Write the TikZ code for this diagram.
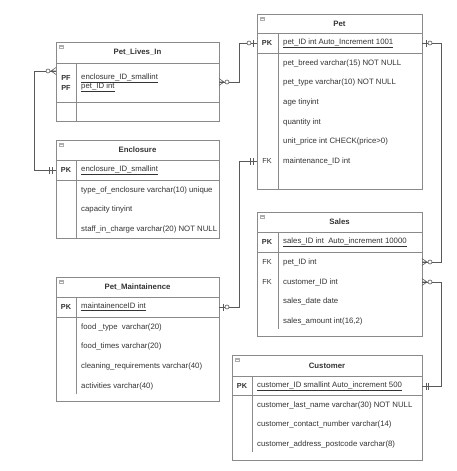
\documentclass[tikz,border=0pt]{standalone}
\usepackage{fontspec}
\setmainfont{Liberation Sans}
\definecolor{lineg}{HTML}{8A8A8A}
\definecolor{txtg}{HTML}{333333}
\tikzset{
  tbl/.style={draw=lineg,line width=0.8pt},
  rel/.style={draw=black!65,line width=0.6pt},
  title/.style={font=\fontsize{7.8}{9}\selectfont\bfseries,text=txtg},
  keylbl/.style={font=\fontsize{7.3}{9}\selectfont\bfseries,text=txtg},
  fklbl/.style={font=\fontsize{7.3}{9}\selectfont,text=txtg},
  fld/.style={anchor=west,inner sep=0pt,text=txtg},
  hicon/.pic={\fill[lineg!70] (0,0) rectangle (5,4); \draw[white,line width=0.5pt] (1,2) -- (4,2);},
  zeromany/.pic={\draw[rel] (0,-3.5) -- (5,0) -- (0,3.5) (0,0) -- (5,0);
                 \draw[rel,fill=white] (8,0) circle (2);},
  zeroone/.pic={\draw[rel] (4,-3.5) -- (4,3.5);
                \draw[rel,fill=white] (8,0) circle (2);},
  oneone/.pic={\draw[rel] (4,-3.5) -- (4,3.5) (6.5,-3.5) -- (6.5,3.5);}
}
\begin{document}
\begin{tikzpicture}[x=1pt,y=-1pt,font=\fontsize{7.8}{9}\selectfont]
\useasboundingbox (0,0) rectangle (456,471);

% connector ends
\coordinate (pli-w) at (56,71);
\coordinate (pli-e) at (219,82);
\coordinate (enc-pk) at (56,170);
\coordinate (pet-pk-w) at (257,43);
\coordinate (pet-pk-e) at (422,43);
\coordinate (pet-fk) at (257,161);
\coordinate (pm-pk) at (219,307);
\coordinate (sal-pet) at (422,262);
\coordinate (sal-cus) at (422,282);
\coordinate (cus-pk) at (422,386);

% Pet_Lives_In
\draw[tbl] (56,42) rectangle (219,121);
\draw[tbl] (56,63) -- (219,63) (56,102) -- (219,102) (76,63) -- (76,121);
\pic at (59,45) {hicon};
\node[title] (plititle) at (137.5,52.5) {Pet\_Lives\_In};
\node[keylbl] (plik1) at (66,78) {PF};
\node[keylbl] (plik2) at (66,87.5) {PF};
\node[fld] (plif1) at (81,78) {\underline{enclosure\_ID\_smallint}};
\node[fld] (plif2) at (81,87.5) {\underline{pet\_ID int}};

% Pet
\draw[tbl] (257,14) rectangle (422,189);
\draw[tbl] (257,33) -- (422,33) (257,53) -- (422,53) (278,33) -- (278,189);
\pic at (260,17) {hicon};
\node[title] (pettitle) at (339.5,23.5) {Pet};
\node[keylbl] (petk1) at (267,43) {PK};
\node[fklbl] (petk2) at (267,161) {FK};
\node[fld] (petf1) at (283,43) {\underline{pet\_ID int Auto\_Increment 1001}};
\node[fld] (petf2) at (283,63) {pet\_breed varchar(15) NOT NULL};
\node[fld] (petf3) at (283,82) {pet\_type varchar(10) NOT NULL};
\node[fld] (petf4) at (283,102) {age tinyint};
\node[fld] (petf5) at (283,122) {quantity int};
\node[fld] (petf6) at (283,141) {unit\_price int CHECK(price>0)};
\node[fld] (petf7) at (283,161) {maintenance\_ID int};

% Enclosure
\draw[tbl] (56,140) rectangle (219,238);
\draw[tbl] (56,160) -- (219,160) (56,180) -- (219,180) (76,160) -- (76,238);
\pic at (59,143) {hicon};
\node[title] (enctitle) at (137.5,150) {Enclosure};
\node[keylbl] (enck1) at (66,170) {PK};
\node[fld] (encf1) at (81,170) {\underline{enclosure\_ID\_smallint}};
\node[fld] (encf2) at (81,190) {type\_of\_enclosure varchar(10) unique};
\node[fld] (encf3) at (81,209) {capacity tinyint};
\node[fld] (encf4) at (81,229) {staff\_in\_charge varchar(20) NOT NULL};

% Sales
\draw[tbl] (257,212) rectangle (422,336);
\draw[tbl] (257,232) -- (422,232) (257,252) -- (422,252) (278,232) -- (278,329);
\pic at (260,215) {hicon};
\node[title] (saltitle) at (339.5,222) {Sales};
\node[keylbl] (salk1) at (267,242) {PK};
\node[fklbl] (salk2) at (267,262) {FK};
\node[fklbl] (salk3) at (267,282) {FK};
\node[fld] (salf1) at (283,242) {\underline{sales\_ID int\ \ Auto\_increment 10000}};
\node[fld] (salf2) at (283,262) {pet\_ID int};
\node[fld] (salf3) at (283,282) {customer\_ID int};
\node[fld] (salf4) at (283,301) {sales\_date date};
\node[fld] (salf5) at (283,321) {sales\_amount int(16,2)};

% Pet_Maintainence
\draw[tbl] (56,277) rectangle (219,401);
\draw[tbl] (56,297) -- (219,297) (56,317) -- (219,317) (76,297) -- (76,394);
\pic at (59,280) {hicon};
\node[title] (pmtitle) at (137.5,287) {Pet\_Maintainence};
\node[keylbl] (pmk1) at (66,307) {PK};
\node[fld] (pmf1) at (81,307) {\underline{maintainenceID int}};
\node[fld] (pmf2) at (81,327) {food \_type\ \ varchar(20)};
\node[fld] (pmf3) at (81,346) {food\_times varchar(20)};
\node[fld] (pmf4) at (81,366) {cleaning\_requirements varchar(40)};
\node[fld] (pmf5) at (81,386) {activities varchar(40)};

% Customer
\draw[tbl] (232,355) rectangle (422,460);
\draw[tbl] (232,376) -- (422,376) (232,395) -- (422,395) (252,376) -- (252,452);
\pic at (235,358) {hicon};
\node[title] (custitle) at (327,365.5) {Customer};
\node[keylbl] (cusk1) at (242,386) {PK};
\node[fld] (cusf1) at (257,386) {\underline{customer\_ID smallint Auto\_increment 500}};
\node[fld] (cusf2) at (257,405) {customer\_last\_name varchar(30) NOT NULL};
\node[fld] (cusf3) at (257,424) {customer\_contact\_number varchar(14)};
\node[fld] (cusf4) at (257,444) {customer\_address\_postcode varchar(8)};

% relationships
\draw[rel] (enc-pk) -- ++(-22,0) |- (pli-w);
\draw[rel] (pli-e) -- ++(20,0) |- (pet-pk-w);
\draw[rel] (pm-pk) -- ++(20,0) |- (pet-fk);
\draw[rel] (pet-pk-e) -- ++(19,0) |- (sal-pet);
\draw[rel] (sal-cus) -- ++(19,0) |- (cus-pk);

\pic[rotate=180] at (pli-w) {zeromany};
\pic at (pli-e) {zeromany};
\pic[rotate=180] at (enc-pk) {oneone};
\pic[rotate=180] at (pet-pk-w) {zeroone};
\pic[rotate=180] at (pet-fk) {oneone};
\pic at (pm-pk) {zeroone};
\pic at (pet-pk-e) {zeroone};
\pic at (sal-pet) {zeromany};
\pic at (sal-cus) {zeromany};
\pic at (cus-pk) {oneone};
\end{tikzpicture}
\end{document}
